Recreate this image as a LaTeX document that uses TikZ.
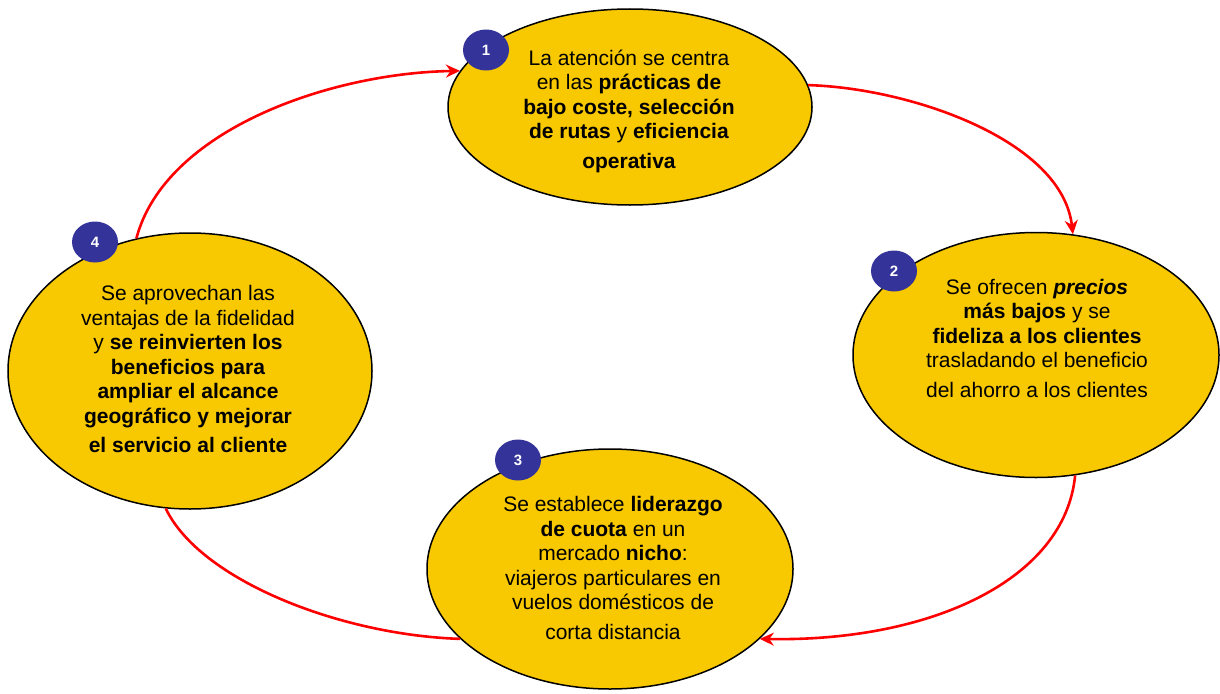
\documentclass[tikz,border=0pt]{standalone}
\usepackage{fontspec}
\setmainfont{Liberation Sans}
\usetikzlibrary{shapes.geometric,arrows.meta}
\definecolor{ellfill}{RGB}{248,200,0}
\definecolor{badgeblue}{RGB}{51,51,153}
\definecolor{arrred}{RGB}{255,0,0}
\begin{document}
\begin{tikzpicture}[x=1pt,y=-1pt,
  ell/.style={ellipse, draw=black, line width=1.5pt, fill=ellfill, inner sep=0pt},
  badge/.style={ellipse, fill=badgeblue, inner sep=0pt, minimum width=46pt, minimum height=41pt, text=white, font=\fontsize{15}{15}\selectfont\bfseries},
  txt/.style={align=center, font=\fontsize{21}{24.5}\selectfont, inner sep=0pt},
  flow/.style={draw=arrred, line width=2.6pt, -{Stealth[length=14pt,width=13pt]}},
  flownotip/.style={draw=arrred, line width=2.6pt}
]
\useasboundingbox (0,0) rectangle (1220,693);
% ellipses
\node[ell, minimum width=364pt, minimum height=196pt] (e1) at (630,107) {};
\node[ell, minimum width=366pt, minimum height=245pt] (e2) at (1036,355) {};
\node[ell, minimum width=366pt, minimum height=240pt] (e3) at (610,569) {};
\node[ell, minimum width=364pt, minimum height=276pt] (e4) at (190,371) {};
% texts
\node[txt] (t1) at (629,111) {La atención se centra\\ en las \textbf{prácticas de}\\ \textbf{bajo coste, selección}\\ \textbf{de rutas} y \textbf{eficiencia}\\[5pt] \textbf{operativa}};
\node[txt] (t2) at (1037,338) {Se ofrecen \textbf{\textit{precios}}\\ \textbf{más bajos} y se\\ \textbf{fideliza a los clientes}\\ trasladando el beneficio\\[5pt] del ahorro a los clientes};
\node[txt] (t3) at (613,568) {Se establece \textbf{liderazgo}\\ \textbf{de cuota} en un\\ mercado \textbf{nicho}:\\ viajeros particulares en\\ vuelos domésticos de\\[5pt] corta distancia};
\node[txt] (t4) at (188,369) {Se aprovechan las\\ ventajas de la fidelidad\\ y \textbf{se reinvierten los}\\ \textbf{beneficios para}\\ \textbf{ampliar el alcance}\\ \textbf{geográfico y mejorar}\\[5pt] \textbf{el servicio al cliente}};
% connectors
\draw[flow] (e4.112.8) .. controls (165,130) and (330,73) .. (e1.168.6);
\draw[flow] (e1.7.9) .. controls (910,88) and (1062,140) .. (e2.73.8);
\draw[flow] (e2.-72.6) .. controls (1065,580) and (930,642) .. (e3.-25.1);
\draw[flownotip] (e3.205.3) .. controls (340,635) and (200,580) .. (e4.260.6);
% badges
\node[badge] (b1) at (486,50) {1};
\node[badge] (b2) at (894,271) {2};
\node[badge] (b3) at (518,460) {3};
\node[badge] (b4) at (95,242) {4};
\end{tikzpicture}
\end{document}
